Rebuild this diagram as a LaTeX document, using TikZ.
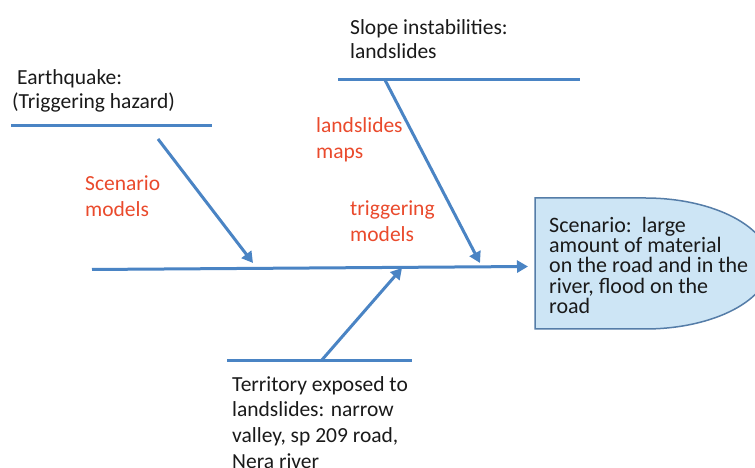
\documentclass[tikz,border=0pt]{standalone}
\usepackage{fontspec}
\setmainfont{Carlito}
\usetikzlibrary{arrows.meta}
\definecolor{bone}{HTML}{4A84C4}
\definecolor{redtxt}{HTML}{EA4A2C}
\definecolor{boxfill}{HTML}{CDE5F5}
\definecolor{boxline}{HTML}{557DA8}
\definecolor{txt}{HTML}{1A1A1A}
\tikzset{
  boneline/.style={draw=bone, line width=3pt},
  bonearrow/.style={draw=bone, line width=3pt, -{Triangle[length=11pt,width=12pt]}},
  blk/.style={anchor=north west, inner sep=0pt, align=left, text=txt,
    font=\fontsize{21.5}{24.5}\selectfont},
  red/.style={anchor=north west, inner sep=0pt, align=left, text=redtxt,
    font=\fontsize{21.5}{26}\selectfont},
}
\begin{document}
\begin{tikzpicture}[x=1pt,y=1pt]
\useasboundingbox (0,0) rectangle (755,468);
\fill[white] (0,0) rectangle (755,468);

% scenario box (head)
\filldraw[fill=boxfill, draw=boxline, line width=1.5pt]
  (535,139) -- (535,270) -- (645,270)
  arc[start angle=90, end angle=-90, x radius=125, y radius=65.5] -- cycle;
\node[blk, font=\fontsize{22}{20.2}\selectfont] (scen) at (549,251)
  {Scenario:\ \ large\\amount of material\\on the road and in the\\river, flood on the\\road};

% spine
\coordinate (spineS) at (92,198.5);
\coordinate (spineE) at (528,201.5);
\draw[bonearrow] (spineS) -- (spineE);

% earthquake bone
\coordinate (eqL) at (11,342);
\coordinate (eqR) at (212,342);
\coordinate (eqA) at (158,329);
\coordinate (eqB) at (253,205);
\draw[boneline] (eqL) -- (eqR);
\draw[bonearrow] (eqA) -- (eqB);
\node[blk] (eq) at (12,399) {\hspace{5pt}Earthquake:\\(Triggering hazard)};
\node[red] (scmod) at (85,292) {Scenario\\models};

% slope bone
\coordinate (slL) at (338,388);
\coordinate (slR) at (580,388);
\coordinate (slA) at (385,388);
\coordinate (slB) at (480,205);
\draw[boneline] (slL) -- (slR);
\draw[bonearrow] (slA) -- (slB);
\node[blk] (slope) at (350,449) {Slope instabilities:\\landslides};
\node[red] (lsmaps) at (316,351) {landslides\\maps};
\node[red] (trig) at (350,267) {triggering\\models};

% territory bone
\coordinate (teL) at (227,107);
\coordinate (teR) at (412,107);
\coordinate (teA) at (321,107);
\coordinate (teB) at (402,200);
\draw[boneline] (teL) -- (teR);
\draw[bonearrow] (teA) -- (teB);
\node[blk, font=\fontsize{21.5}{25.7}\selectfont] (terr) at (232,92)
  {Territory exposed to\\landslides: narrow\\valley, sp 209 road,\\Nera river};
\end{tikzpicture}
\end{document}
